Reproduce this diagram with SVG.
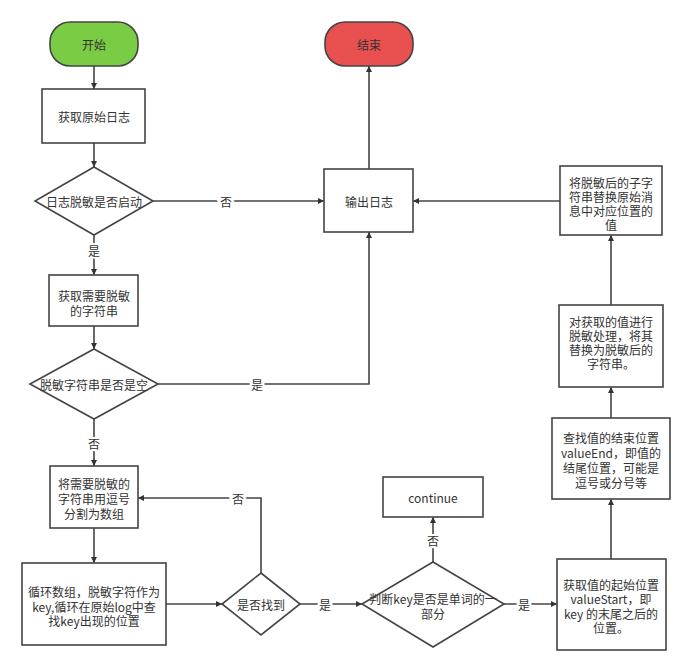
<svg xmlns="http://www.w3.org/2000/svg" width="692" height="671" viewBox="0 0 692 671">
<style>
.n{fill:#fff;stroke:#444;stroke-width:1.6}
.t{font-family:"Noto Sans CJK SC","Liberation Sans",sans-serif;font-size:12px;fill:#333;text-anchor:middle;dominant-baseline:central}
.e{fill:none;stroke:#444;stroke-width:1.6}
.l{font-family:"Noto Sans CJK SC","Liberation Sans",sans-serif;font-size:12px;fill:#333;text-anchor:middle;dominant-baseline:central;stroke:#fff;stroke-width:4;paint-order:stroke}
</style>
<defs>
<marker id="a" viewBox="0 0 10 10" refX="10" refY="5" markerWidth="6" markerHeight="6" markerUnits="userSpaceOnUse" orient="auto"><path d="M0,0 L10,5 L0,10 z" fill="#333"/></marker>
</defs>
<rect width="692" height="671" fill="#fff"/>
<g id="connectors">
<path class="e" d="M94,66 V89" marker-end="url(#a)" style="marker-end:url(#a)"/>
<path class="e" d="M94,143 V167" marker-end="url(#a)"/>
<path class="e" d="M153,201 H324" marker-end="url(#a)"/>
<path class="e" d="M94,235 V275" marker-end="url(#a)"/>
<path class="e" d="M94,326 V349" marker-end="url(#a)"/>
<path class="e" d="M158,384 H369 V232" marker-end="url(#a)"/>
<path class="e" d="M94,419 V466" marker-end="url(#a)"/>
<path class="e" d="M369,169 V66" marker-end="url(#a)"/>
<path class="e" d="M94,528 V563" marker-end="url(#a)"/>
<path class="e" d="M166,604 H222" marker-end="url(#a)"/>
<path class="e" d="M261,573 V498 H138" marker-end="url(#a)"/>
<path class="e" d="M300,604 H362" marker-end="url(#a)"/>
<path class="e" d="M433,562 V517" marker-end="url(#a)"/>
<path class="e" d="M504,604 H557" marker-end="url(#a)"/>
<path class="e" d="M611,559 V499" marker-end="url(#a)"/>
<path class="e" d="M611,418 V387" marker-end="url(#a)"/>
<path class="e" d="M611,305 V235" marker-end="url(#a)"/>
<path class="e" d="M560,201 H413" marker-end="url(#a)"/>
<text class="l" x="226" y="201">否</text>
<text class="l" x="94" y="250">是</text>
<text class="l" x="257" y="384">是</text>
<text class="l" x="94" y="443">否</text>
<text class="l" x="238" y="498">否</text>
<text class="l" x="325" y="604">是</text>
<text class="l" x="433" y="540">否</text>
<text class="l" x="524" y="604">是</text>
</g>
<g id="start">
<rect x="50" y="22" width="88" height="44" rx="20" fill="#7acc44" stroke="#444" stroke-width="1.6"/>
<text class="t" x="94" y="44">开始</text>
</g>
<g id="end">
<rect x="325" y="22" width="88" height="44" rx="20" fill="#e85050" stroke="#444" stroke-width="1.6"/>
<text class="t" x="369" y="44">结束</text>
</g>
<g id="getLog">
<rect class="n" x="42" y="89" width="103" height="54"/>
<text class="t" x="94" y="116">获取原始日志</text>
</g>
<g id="enabled">
<polygon class="n" points="94,167 153,201 94,235 35,201"/>
<text class="t" x="94" y="201">日志脱敏是否启动</text>
</g>
<g id="output">
<rect class="n" x="324" y="169" width="89" height="63"/>
<text class="t" x="369" y="201">输出日志</text>
</g>
<g id="getStr">
<rect class="n" x="49" y="275" width="89" height="51"/>
<text class="t" x="94" y="295">获取需要脱敏</text>
<text class="t" x="94" y="310">的字符串</text>
</g>
<g id="isEmpty">
<polygon class="n" points="94,349 158,384 94,419 30,384"/>
<text class="t" x="94" y="384">脱敏字符串是否是空</text>
</g>
<g id="split">
<rect class="n" x="50" y="466" width="88" height="62"/>
<text class="t" x="94" y="483">将需要脱敏的</text>
<text class="t" x="94" y="498">字符串用逗号</text>
<text class="t" x="94" y="513">分割为数组</text>
</g>
<g id="loop">
<rect class="n" x="22" y="563" width="144" height="82"/>
<text class="t" x="94" y="591">循环数组，脱敏字符作为</text>
<text class="t" x="94" y="606">key,循环在原始log中查</text>
<text class="t" x="94" y="620">找key出现的位置</text>
</g>
<g id="found">
<polygon class="n" points="261,573 300,604 261,635 222,604"/>
<text class="t" x="261" y="604">是否找到</text>
</g>
<g id="isWord">
<polygon class="n" points="433,562 504,604 433,647 362,604"/>
<text class="t" x="433" y="598">判断key是否是单词的一</text>
<text class="t" x="433" y="613">部分</text>
</g>
<g id="continue">
<rect class="n" x="383" y="477" width="100" height="40"/>
<text class="t" x="433" y="497">continue</text>
</g>
<g id="valueStart">
<rect class="n" x="557" y="559" width="109" height="91"/>
<text class="t" x="611" y="584">获取值的起始位置</text>
<text class="t" x="611" y="598">valueStart，即</text>
<text class="t" x="611" y="613">key 的末尾之后的</text>
<text class="t" x="611" y="627">位置。</text>
</g>
<g id="valueEnd">
<rect class="n" x="552" y="418" width="118" height="81"/>
<text class="t" x="611" y="437">查找值的结束位置</text>
<text class="t" x="611" y="452">valueEnd，即值的</text>
<text class="t" x="611" y="467">结尾位置，可能是</text>
<text class="t" x="611" y="482">逗号或分号等</text>
</g>
<g id="mask">
<rect class="n" x="559" y="305" width="104" height="82"/>
<text class="t" x="611" y="321">对获取的值进行</text>
<text class="t" x="611" y="335">脱敏处理，将其</text>
<text class="t" x="611" y="349">替换为脱敏后的</text>
<text class="t" x="611" y="363">字符串。</text>
</g>
<g id="replace">
<rect class="n" x="560" y="166" width="102" height="69"/>
<text class="t" x="611" y="182">将脱敏后的子字</text>
<text class="t" x="611" y="196">符串替换原始消</text>
<text class="t" x="611" y="210">息中对应位置的</text>
<text class="t" x="611" y="224">值</text>
</g>
</svg>
